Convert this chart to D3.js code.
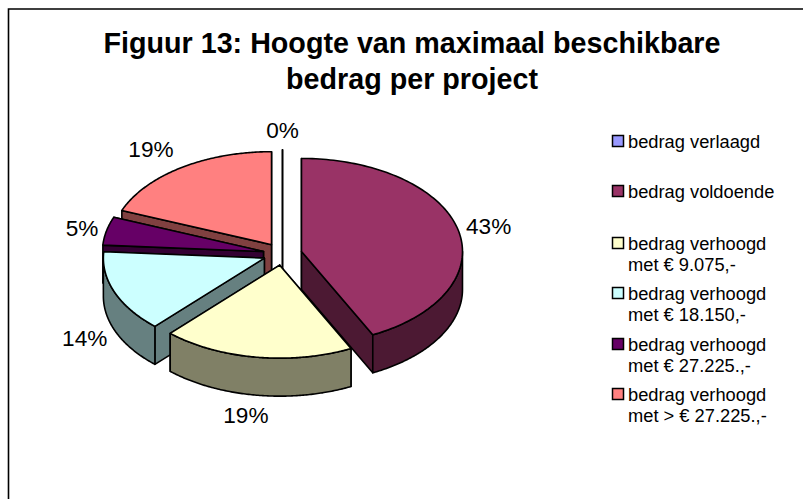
<!DOCTYPE html>
<html><head><meta charset="utf-8">
<style>html,body{margin:0;padding:0;background:#fff}svg{display:block}text{font-family:"Liberation Sans",Arial,sans-serif;fill:#000}</style>
<script src="https://cdn.jsdelivr.net/npm/d3@7"></script></head><body>
<script>
const titleLines = ["Figuur 13: Hoogte van maximaal beschikbare", "bedrag per project"];
const categories = [["bedrag verlaagd"], ["bedrag voldoende"], ["bedrag verhoogd", "met € 9.075,-"], ["bedrag verhoogd", "met € 18.150,-"], ["bedrag verhoogd", "met € 27.225.,-"], ["bedrag verhoogd", "met > € 27.225.,-"]];
const values = [0, 42.7, 19.2, 14.2, 4.9, 19];
const topColors = ["#9999FF", "#993366", "#FFFFCC", "#CCFFFF", "#660066", "#FF8080"];
const wallColors = ["#4C4C80", "#4C1933", "#808066", "#668080", "#330033", "#804040"];

// layout
const W = 803, H = 499, cx = 282.5, cy = 254, rx = 161, ry = 93, depth = 38, explode = 19.5;
const drawOrder = [0, 5, 4, 3, 1, 2];
const labelNudge = [[0, -1], [-1, 0], [-6, 2], [0, 1], [7, 1], [-12, -3]];
const legendTop = [135, 185, 237, 287, 338, 388];
const legendBaselineGap = 21;

const svg = d3.select("body").append("svg").attr("width", W).attr("height", H);
svg.append("rect").attr("width", W).attr("height", H).attr("fill", "#fff");
svg.append("path").attr("d", `M8.5 ${H}V9H${W}`).attr("fill", "none").attr("stroke", "#000").attr("stroke-width", 1.6);

const title = svg.append("g").attr("font-weight", "bold").attr("font-size", 28.7).attr("text-anchor", "middle");
titleLines.forEach((t, i) => title.append("text").attr("x", 412).attr("y", 53 + i * 36).text(t));

const px = d3.scaleLinear().domain([-1, 1]).range([-rx, rx]);
const py = d3.scaleLinear().domain([-1, 1]).range([ry, -ry]);
const slices = d3.pie().sort(null).value(d => d)(values);
const line = d3.line();

function geometry(s) {
  const mid = (s.startAngle + s.endAngle) / 2;
  const ax = cx + explode * Math.sin(mid), ay = cy - explode * (ry / rx) * Math.cos(mid);
  const pt = (t, f = 1) => [ax + px(Math.sin(t) * f), ay + py(Math.cos(t) * f)];
  return { mid, ax, ay, pt };
}
const arcPts = (g, a, b) => d3.range(0, 121).map(i => g.pt(a + (b - a) * i / 120));
const drop = p => [p[0], p[1] + depth];

const pie = svg.append("g").attr("stroke", "#000").attr("stroke-width", 1.6).attr("stroke-linejoin", "round");
drawOrder.forEach(i => {
  const s = slices[i], g = geometry(s), a = s.startAngle, b = s.endAngle;
  const apex = [g.ax, g.ay];
  const G = pie.append("g");
  const wall = wallColors[i];
  // radial cut walls, farther edge first
  [a, b].sort((u, v) => g.pt(u)[1] - g.pt(v)[1]).forEach(t => {
    const e = g.pt(t);
    G.append("path").attr("d", line([apex, e, drop(e), drop(apex)]) + "Z").attr("fill", wall);
  });
  // rim wall on the front half
  const fa = Math.max(a, Math.PI / 2), fb = Math.min(b, Math.PI * 1.5);
  if (fb > fa) {
    const top = arcPts(g, fa, fb);
    G.append("path").attr("d", line(top.concat(top.slice().reverse().map(drop))) + "Z").attr("fill", wall);
  }
  if (b > a) {
    G.append("path").attr("d", line([apex].concat(arcPts(g, a, b))) + "Z").attr("fill", topColors[i]);
  }
});

const labels = svg.append("g").attr("font-size", 22.6).attr("text-anchor", "middle");
slices.forEach((s, i) => {
  const g = geometry(s), p = g.pt(g.mid, 1.2);
  const front = Math.cos(g.mid) < 0 ? depth : 0;
  labels.append("text").attr("x", p[0] + labelNudge[i][0]).attr("y", p[1] + front + labelNudge[i][1])
    .attr("dy", "0.35em").text(Math.round(s.value) + "%");
});

const legend = svg.append("g").attr("font-size", 18.3);
categories.forEach((c, i) => {
  legend.append("rect").attr("x", 612.5).attr("y", legendTop[i] + 0.5).attr("width", 11).attr("height", 11)
    .attr("fill", topColors[i]).attr("stroke", "#000").attr("stroke-width", 1.5);
  c.forEach((t, j) => legend.append("text").attr("x", 628).attr("y", legendTop[i] + 13 + j * legendBaselineGap).text(t));
});
</script></body></html>
